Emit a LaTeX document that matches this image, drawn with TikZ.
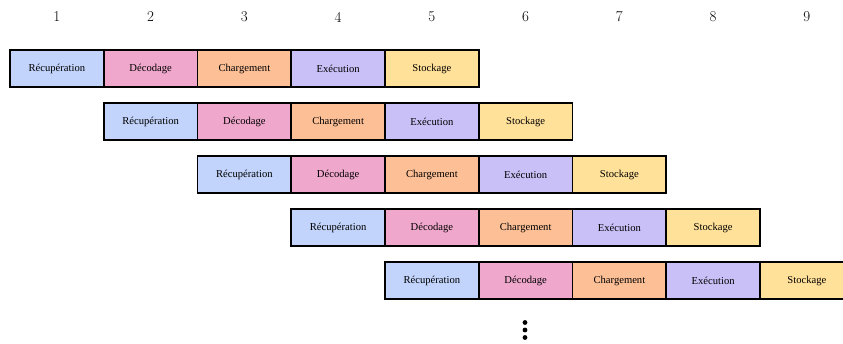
\documentclass[tikz,border=0pt]{standalone}
\usepackage{fontspec}
\newfontfamily\boxfont{Liberation Serif}
\definecolor{cRec}{HTML}{C2D4FB}
\definecolor{cDec}{HTML}{F0A7CC}
\definecolor{cCha}{HTML}{FDBF96}
\definecolor{cExe}{HTML}{C9C0F7}
\definecolor{cSto}{HTML}{FFE19A}
\tikzset{
  stage/.style={draw=black, line width=1.8pt, minimum width=93.75pt, minimum height=37pt, inner sep=0pt, font=\boxfont\fontsize{10.6}{12}\selectfont, anchor=center},
  numlbl/.style={font=\fontsize{15}{18}\selectfont, anchor=center},
  dotmark/.style={fill=black},
}
\begin{document}
\begin{tikzpicture}[x=1pt,y=1pt]
\useasboundingbox (0,0) rectangle (843,-343);
\clip (0,0) rectangle (843,-343);
\foreach \i in {1,...,9} {
  \node[numlbl] (n\i) at ({56.9+93.75*(\i-1)},-17) {\i};
}
\foreach \j in {0,...,4} {
  \pgfmathsetmacro{\yy}{-(68.5+53*\j)}
  \pgfmathsetmacro{\xo}{56.9+93.75*\j}
  \node[stage, fill=cRec] (r\j a) at (\xo,\yy) {Récupération};
  \node[stage, fill=cDec] (r\j b) at (\xo+93.75,\yy) {Décodage};
  \node[stage, fill=cCha] (r\j c) at (\xo+187.5,\yy) {Chargement};
  \node[stage, fill=cExe] (r\j d) at (\xo+281.25,\yy) {Exécution};
  \node[stage, fill=cSto] (r\j e) at (\xo+375,\yy) {Stockage};
}
\foreach \k in {0,1,2} {
  \fill[dotmark] (525,{-322.5-7.5*\k}) circle (2.4);
}
\end{tikzpicture}
\end{document}
